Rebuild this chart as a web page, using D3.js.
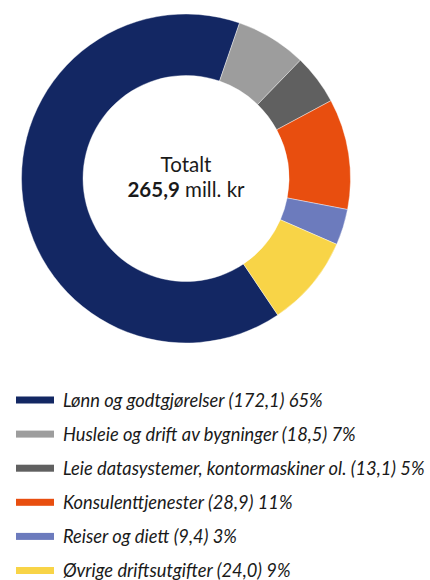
<!DOCTYPE html>
<html><head><meta charset="utf-8">
<script src="https://cdn.jsdelivr.net/npm/d3@7"></script>
<style>body{margin:0;background:#fff;}svg{display:block;}</style>
</head><body>
<svg id="c" width="430" height="580"></svg>
<script>
const categories = ["Lønn og godtgjørelser","Husleie og drift av bygninger","Leie datasystemer, kontormaskiner ol.","Konsulenttjenester","Reiser og diett","Øvrige driftsutgifter"];
const values = [172.1, 18.5, 13.1, 28.9, 9.4, 24.0];
const valueLabels = ["172,1","18,5","13,1","28,9","9,4","24,0"];
const percents = ["65%","7%","5%","11%","3%","9%"];
const colors = ["#132763","#9d9d9d","#606060","#e84e0f","#6c7bbd","#f8d447"];
const totalLabel = "265,9";

const svg = d3.select("#c");
const cx = 186, cy = 178.5, R = 164.5, r = 103;
const total = d3.sum(values);
const lonnAngle = values[0] / total * 2 * Math.PI;
const endFirst = 19 * Math.PI / 180;
const start = endFirst - lonnAngle;
const pie = d3.pie().sort(null).startAngle(start).endAngle(start + 2 * Math.PI);
const arc = d3.arc().innerRadius(r).outerRadius(R);
const g = svg.append("g").attr("transform", `translate(${cx},${cy})`);
g.selectAll("path").data(pie(values)).join("path")
  .attr("d", arc).attr("fill", (d, i) => colors[i])
  .attr("stroke", "#fff").attr("stroke-width", 0.4);

const t = g.append("text").attr("text-anchor", "middle").attr("font-family", "Lato, sans-serif").attr("fill", "#1a1a1a").attr("font-size", 20.5);
t.append("tspan").attr("x", 0).attr("y", -6.5).text("Totalt");
const t2 = g.append("text").attr("text-anchor", "middle").attr("font-family", "Lato, sans-serif").attr("fill", "#1a1a1a").attr("font-size", 20.5).attr("y", 18);
t2.append("tspan").attr("font-weight", "bold").text(totalLabel);
t2.append("tspan").text(" mill. kr");

const leg = svg.append("g");
const rowY = d3.scaleLinear().domain([0, 5]).range([400, 570.5]);
categories.forEach((c, i) => {
  const y = rowY(i);
  leg.append("rect").attr("x", 16).attr("y", y - 3.5).attr("width", 38).attr("height", 7).attr("fill", colors[i]);
  leg.append("text").attr("x", 63).attr("y", y + 6.5).attr("font-family", "Lato, sans-serif")
    .attr("font-style", "italic").attr("font-size", 18.3).attr("fill", "#1a1a1a")
    .text(`${c} (${valueLabels[i]}) ${percents[i]}`);
});
</script>
</body></html>
